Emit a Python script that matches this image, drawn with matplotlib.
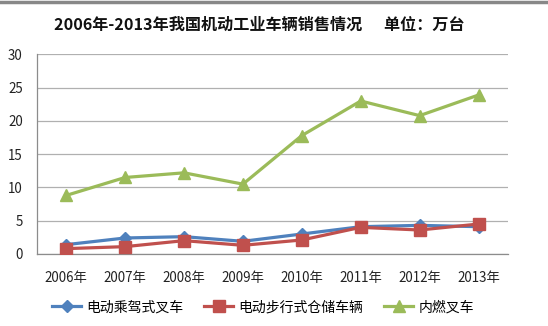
import matplotlib
matplotlib.use("Agg")
import matplotlib.pyplot as plt
from matplotlib.lines import Line2D

plt.rcParams['font.family'] = ['Noto Sans CJK SC', 'DejaVu Sans']

years = ["2006年", "2007年", "2008年", "2009年", "2010年", "2011年", "2012年", "2013年"]
ride_forklift = [1.4, 2.4, 2.6, 1.9, 3.0, 4.1, 4.3, 4.1]
walk_storage = [0.8, 1.1, 2.0, 1.3, 2.1, 4.0, 3.6, 4.5]
ic_forklift = [8.8, 11.5, 12.2, 10.5, 17.8, 23.0, 20.8, 23.9]
series_names = ["电动乘驾式叉车", "电动步行式仓储车辆", "内燃叉车"]
title = "2006年-2013年我国机动工业车辆销售情况      单位：万台"

fig = plt.figure(figsize=(5.48, 3.26), dpi=100)
ax = fig.add_axes([0.067, 0.221, 0.86, 0.612])

x = list(range(len(years)))
c_blue, c_red, c_green = "#4F81BD", "#C0504D", "#9BBB59"
ax.plot(x, ride_forklift, color=c_blue, lw=2.3, marker="D", ms=6, zorder=3)
ax.plot(x, walk_storage, color=c_red, lw=2.3, marker="s", ms=9, zorder=4)
ax.plot(x, ic_forklift, color=c_green, lw=2.3, marker="^", ms=9, zorder=3)

ax.set_xlim(-0.5, len(years) - 0.5)
ax.set_ylim(0, 30)
ax.set_yticks([0, 5, 10, 15, 20, 25, 30])
ax.set_xticks(x)
ax.set_xticklabels(years)
ax.tick_params(axis="both", length=0, labelsize=9.6, colors="#222222")
ax.tick_params(axis="x", pad=12)
ax.tick_params(axis="y", pad=10)
ax.grid(axis="y", color="#b0b0b0", lw=0.9)
ax.set_axisbelow(True)
for s in ["top", "right"]:
    ax.spines[s].set_visible(False)
for s in ["left", "bottom"]:
    ax.spines[s].set_color("#8c8c8c")
    ax.spines[s].set_linewidth(0.9)

fig.text(0.473, 0.923, title, ha="center", va="center", fontsize=11.6,
         fontweight="bold", color="#111111")

handles = [
    Line2D([], [], color=c_blue, lw=2.3, marker="D", ms=6),
    Line2D([], [], color=c_red, lw=2.3, marker="s", ms=9),
    Line2D([], [], color=c_green, lw=2.3, marker="^", ms=9),
]
fig.legend(handles, series_names, loc="center", bbox_to_anchor=(0.48, 0.058),
           ncol=3, frameon=False, fontsize=10, handlelength=2.1,
           columnspacing=1.5, handletextpad=0.36)

fig.add_artist(Line2D([0, 1], [0.995, 0.995], transform=fig.transFigure,
                      color="#888888", lw=2.5))

fig.savefig("out.png", dpi=100)
